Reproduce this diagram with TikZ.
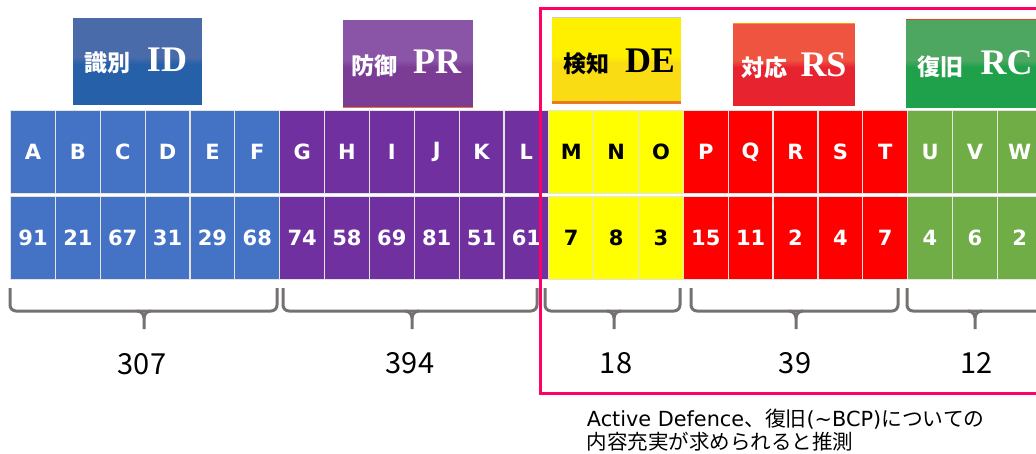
\documentclass[tikz,border=0pt]{standalone}
\usepackage{fontspec}
\setmainfont{DejaVu Sans}
\newfontfamily\cjk{Noto Sans CJK JP}
\newfontfamily\hdrserif{Liberation Serif}
\definecolor{cblue}{HTML}{4472C4}
\definecolor{cpurple}{HTML}{7030A0}
\definecolor{cyellow}{HTML}{FFFF00}
\definecolor{cred}{HTML}{FF0000}
\definecolor{cgreen}{HTML}{70AD47}
\definecolor{idtop}{HTML}{4A6BA9}
\definecolor{idbot}{HTML}{2660A9}
\definecolor{prtop}{HTML}{8A55A6}
\definecolor{prbot}{HTML}{7B3C96}
\definecolor{detop}{HTML}{FFF000}
\definecolor{debot}{HTML}{F9DC14}
\definecolor{rstop}{HTML}{EE5440}
\definecolor{rsbot}{HTML}{E82330}
\definecolor{rctop}{HTML}{4DA761}
\definecolor{rcbot}{HTML}{1FA04B}
\definecolor{edgeorange}{HTML}{E8782A}
\definecolor{bracegray}{HTML}{767171}
\definecolor{pinkframe}{HTML}{FF0066}
\definecolor{sepgray}{HTML}{E4E4E4}
\newcommand\glossbox[6]{%
  \fill[#6] (#1,#2) rectangle (#3,#4);
  \fill[#5] (#1,#2) rectangle (#3,{(#2+#4)/2-3});
  \foreach \k in {1,...,6}{
    \pgfmathsetmacro\pct{100-\k*14}
    \fill[#5!\pct!#6] (#1,{(#2+#4)/2-4+\k}) rectangle (#3,{(#2+#4)/2-3+\k});
  }
}
\tikzset{
  cell/.style={draw=sepgray, line width=1.2pt, anchor=north west,
    minimum width=44.85pt, minimum height=83pt, inner sep=0pt,
    font=\fontsize{21}{24}\selectfont\bfseries},
  hcjk/.style={inner sep=0pt, font=\cjk\bfseries\fontsize{23}{23}\selectfont},
  hlat/.style={inner sep=0pt, font=\hdrserif\bfseries\fontsize{36}{36}\selectfont},
  brace/.style={draw=bracegray, line width=3pt, rounded corners=6pt},
  tip/.style={draw=bracegray, line width=3pt},
  total/.style={inner sep=0pt, font=\cjk\fontsize{29}{29}\selectfont},
}
\begin{document}
\begin{tikzpicture}[x=1pt,y=-1pt]
\useasboundingbox (0,0) rectangle (1036,453);
\clip (0,0) rectangle (1036,453);
\fill[white] (0,0) rectangle (1036,453);

% header boxes
\glossbox{73.3}{17.7}{202}{105}{idtop}{idbot}
\glossbox{343.3}{20}{472.7}{108}{prtop}{prbot}
\fill[edgeorange] (343.3,106.8) rectangle (472.7,108.3);
\glossbox{552}{17.3}{681}{103.3}{detop}{debot}
\fill[edgeorange] (552,101.3) rectangle (681,103.6);
\draw[gray!40, line width=0.6pt] (552,17.6) -- (681,17.6);
\glossbox{733}{22.7}{855.3}{106}{rstop}{rsbot}
\fill[orange!80!yellow] (733,22.7) rectangle (855.3,24);
\glossbox{906}{19}{1036}{108}{rctop}{rcbot}
\fill[red!45!brown] (906,19) rectangle (1036,20.2);

\node[hcjk, text=white] (idj) at (107,62.5) {識別};
\node[hlat, text=white] (idl) at (167,59.5) {ID};
\node[hcjk, text=white] (prj) at (374,65.5) {防御};
\node[hlat, text=white] (prl) at (437,62) {PR};
\node[hcjk, text=black] (dej) at (586,63.5) {検知};
\node[hlat, text=black] (del) at (650,60.5) {DE};
\node[hcjk, text=white] (rsj) at (764.5,67.5) {対応};
\node[hlat, text=white] (rsl) at (823.5,65) {RS};
\node[hcjk, text=white] (rcj) at (940,66.5) {復旧};
\node[hlat, text=white] (rcl) at (1006.5,63) {RC};

% cells
\foreach \L/\N/\C/\T [count=\i from 0] in {
  A/91/cblue/white, B/21/cblue/white, C/67/cblue/white, D/31/cblue/white,
  E/29/cblue/white, F/68/cblue/white,
  G/74/cpurple/white, H/58/cpurple/white, I/69/cpurple/white, J/81/cpurple/white,
  K/51/cpurple/white, L/61/cpurple/white,
  M/7/cyellow/black, N/8/cyellow/black, O/3/cyellow/black,
  P/15/cred/white, Q/11/cred/white, R/2/cred/white, S/4/cred/white, T/7/cred/white,
  U/4/cgreen/white, V/6/cgreen/white, W/2/cgreen/white}{
  \pgfmathsetmacro\xa{10+44.85*\i}
  \node[cell, fill=\C, text=\T] (l\i) at (\xa,110) {\L};
  \node[cell, fill=\C, text=\T] (n\i) at (\xa,196) {\N};
}

% pink frame
\draw[pinkframe, line width=3pt] (1050,8.3) -- (540.7,8.3) -- (540.7,393.3) -- (1050,393.3);

% braces
\foreach \xa/\xb/\xt/\name in {10/277/144/b1, 283/537/412/b2, 545/680/614/b3, 691/898/796/b4, 907/1060/975/b5}{
  \draw[brace] (\xa,288) -- (\xa,311) -- (\xb,311) -- (\xb,288);
  \draw[tip] (\xt-7,311) to[out=0,in=90] (\xt,318) -- (\xt,329);
  \draw[tip] (\xt+7,311) to[out=180,in=90] (\xt,318);
  \coordinate (\name) at (\xt,329);
}

% totals
\node[total] (t1) at (142,364) {307};
\node[total] (t2) at (410,363) {394};
\node[total] (t3) at (616,363) {18};
\node[total] (t4) at (795,363) {39};
\node[total] (t5) at (976.5,363) {12};

% note
\node[anchor=base west, inner sep=0pt, font=\fontsize{20.8}{22.5}\selectfont] (note1) at (586.7,426.7)
  {Active Defence{\cjk 、復旧}(\textasciitilde BCP){\cjk についての}};
\node[anchor=base west, inner sep=0pt, font=\cjk\fontsize{20.5}{22.5}\selectfont] (note2) at (586.7,449)
  {内容充実が求められると推測};
\end{tikzpicture}
\end{document}
